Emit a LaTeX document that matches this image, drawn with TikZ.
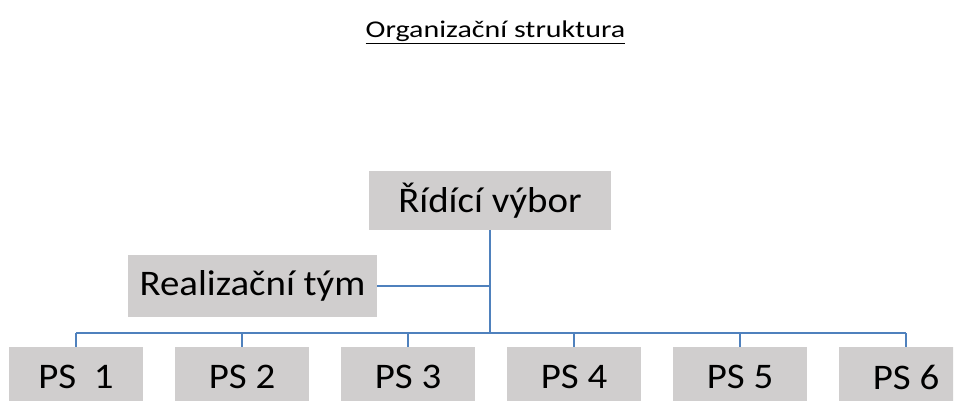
\documentclass[tikz,border=0pt]{standalone}
\usepackage{fontspec}
\setmainfont{Carlito}
\newfontfamily\boxfont[FakeStretch=1.08]{Carlito}
\newfontfamily\titlefont[FakeStretch=1.25]{Carlito}
\usepackage{tikz}
\usetikzlibrary{positioning}
\definecolor{boxgray}{HTML}{D0CECE}
\definecolor{lineblue}{HTML}{4F81BD}

\begin{document}
\begin{tikzpicture}[
  x=1pt, y=-1pt,
  box/.style={rectangle, fill=boxgray, inner sep=0pt,
              font=\boxfont\fontsize{36}{40}\selectfont, text=black},
  psbox/.style={box, minimum width=134pt, minimum height=60pt},
  trunk/.style={line width=2.2pt, color=lineblue},
  branch/.style={line width=1.6pt, color=lineblue},
]
\useasboundingbox (0,0) rectangle (958,401);
\clip (0,0) rectangle (953,401);

\node[anchor=base, inner sep=0pt, font=\titlefont\fontsize{24}{28}\selectfont] (title) at (495.5,38)
  {\underline{Organizační struktura}};

\node[box, minimum width=242pt, minimum height=59pt] (RV) at (490,200.5) {Řídící výbor};
\node[box, minimum width=249pt, minimum height=62pt] (RT) at (252.5,286) {Realizační tým};

\node[psbox] (PS1) at (76,377) {PS\ \ 1};
\node[psbox, right=31.6pt of PS1] (PS2) {PS 2};
\node[psbox, right=31.6pt of PS2] (PS3) {PS 3};
\node[psbox, right=31.6pt of PS3] (PS4) {PS 4};
\node[psbox, right=31.6pt of PS4] (PS5) {PS 5};
\node[psbox, right=31.6pt of PS5] (PS6) {PS 6};

\coordinate (hub) at (RV.south |- 0,333);

\draw[trunk] (RV.south) -- (hub);
\draw[branch] (RT.east) -- (RT.east -| hub);
\draw[trunk] (PS1.north |- hub) -- (PS6.north |- hub);
\draw[branch] (PS1.north) -- (PS1.north |- hub);
\draw[branch] (PS2.north) -- (PS2.north |- hub);
\draw[branch] (PS3.north) -- (PS3.north |- hub);
\draw[branch] (PS4.north) -- (PS4.north |- hub);
\draw[branch] (PS5.north) -- (PS5.north |- hub);
\draw[branch] (PS6.north) -- (PS6.north |- hub);
\end{tikzpicture}
\end{document}
